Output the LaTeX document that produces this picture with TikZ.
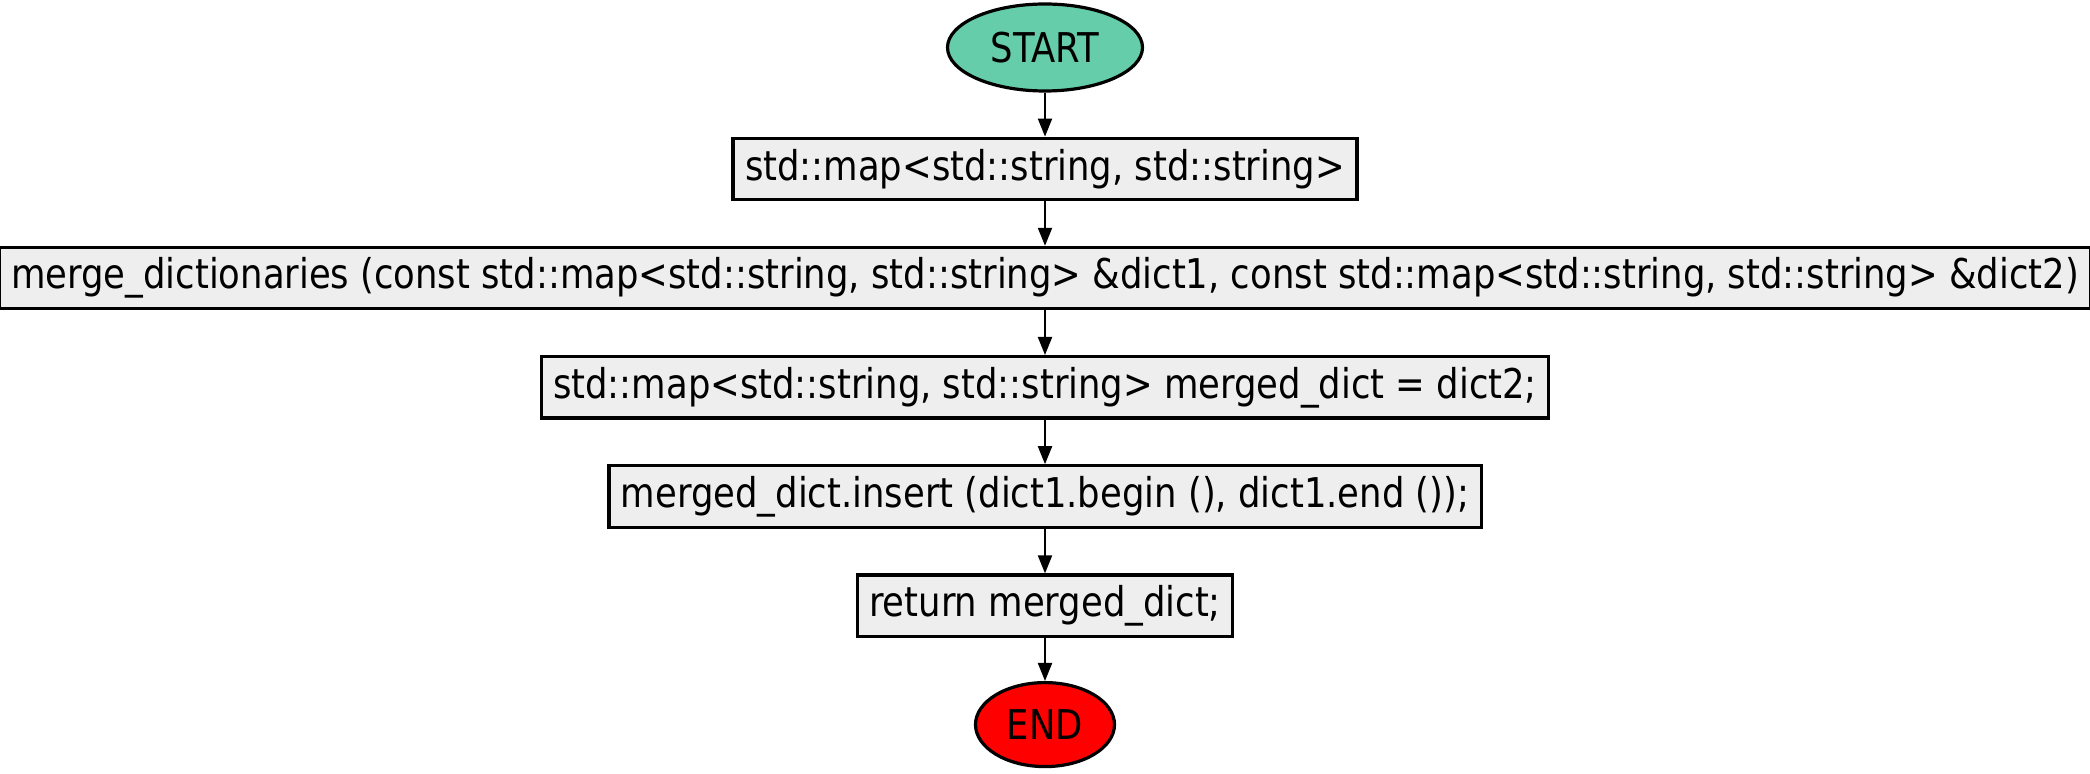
\documentclass[tikz,border=0pt]{standalone}
\usepackage{fontspec}
\setmainfont[FakeStretch=0.96]{DejaVu Sans Condensed}
\usepackage{tikz}
\usetikzlibrary{positioning,shapes.geometric,arrows.meta}

\definecolor{startgreen}{HTML}{66CDAA}
\definecolor{boxgray}{HTML}{EEEEEE}

\tikzset{
  terminal/.style={ellipse, draw=black, line width=1.6pt, font=\fontsize{20.5}{24}\selectfont, inner sep=0pt},
  process/.style={rectangle, draw=black, fill=boxgray, line width=1.6pt, minimum height=30.7pt, inner xsep=6pt, inner ysep=0pt, font=\fontsize{20.5}{24}\selectfont},
  flow/.style={-{Triangle[length=9pt,width=7pt]}, line width=1pt}
}

\begin{document}
\begin{tikzpicture}[x=0.5pt, y=-0.5pt, node distance=22.3pt]
        \useasboundingbox (0,0) rectangle (2090,774);

          % Define nodes
          \node[terminal, fill=startgreen, minimum width=97.5pt, minimum height=43.5pt] (Start) at (1045,47.5) {START};
          \node[process, below=22pt of Start] (MapType) {std::map<std::string, std::string>};
          \node[process, below=of MapType] (MergeFunc) {merge\_dictionaries (const std::map<std::string, std::string> \&dict1, const std::map<std::string, std::string> \&dict2)};
          \node[process, below=of MergeFunc] (CopyDict) {std::map<std::string, std::string> merged\_dict = dict2;};
          \node[process, below=of CopyDict] (InsertDict) {merged\_dict.insert (dict1.begin (), dict1.end ());};
          \node[process, below=of InsertDict] (ReturnDict) {return merged\_dict;};
          \node[terminal, fill=red, minimum width=69.5pt, minimum height=42pt, below=21.5pt of ReturnDict] (End) {END};

          % Connect the nodes
          \draw[flow] (Start) -- (MapType);
          \draw[flow] (MapType) -- (MergeFunc);
          \draw[flow] (MergeFunc) -- (CopyDict);
          \draw[flow] (CopyDict) -- (InsertDict);
          \draw[flow] (InsertDict) -- (ReturnDict);
          \draw[flow] (ReturnDict) -- (End);

\end{tikzpicture}
\end{document}
